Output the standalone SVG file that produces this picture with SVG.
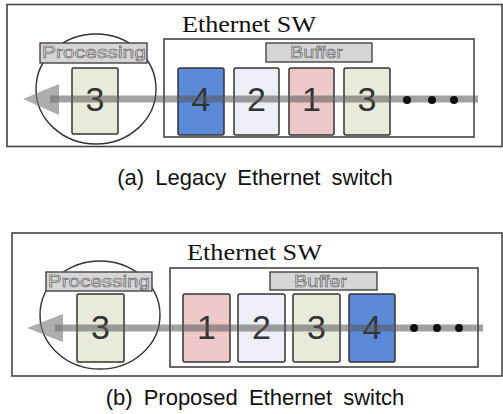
<svg xmlns="http://www.w3.org/2000/svg" width="503" height="414" viewBox="0 0 503 414">
<style>
.frame{fill:#fff;stroke:#444;stroke-width:1.6}
.buf{fill:none;stroke:#444;stroke-width:1.6}
.lbl{fill:#d6d6d6;stroke:#444;stroke-width:1.4}
.lbltxt{font-family:"Liberation Sans",Arial,sans-serif;fill:#d8d8d8;stroke:#444;stroke-width:0.45}
.circ{fill:none;stroke:#333;stroke-width:1.4}
.pkt{stroke:#333;stroke-width:1.5}
.num{font-family:"Liberation Sans",Arial,sans-serif;font-size:34px;fill:#333;text-anchor:middle}
.title{font-family:"Liberation Serif","Times New Roman",serif;font-size:23px;fill:#111}
.cap{font-family:"Liberation Sans",Arial,sans-serif;font-size:22px;fill:#111;text-anchor:middle}
.shaft{stroke:#555;stroke-width:7;opacity:0.55}
.head{fill:#777;opacity:0.6}
.blue{fill:#5b8ad8}.lav{fill:#eeeef6}.pink{fill:#efc9c9}.green{fill:#e8ebda}
</style>

<g id="panel-a">
  <rect class="frame" x="7" y="4.5" width="495" height="142"/>
  <text class="title" x="182" y="32" textLength="134" lengthAdjust="spacingAndGlyphs">Ethernet SW</text>
  <g id="a-buffer">
    <rect class="buf" x="164" y="39" width="310" height="98"/>
    <rect class="lbl" x="266" y="43" width="106" height="19"/>
    <text class="lbltxt" x="290" y="58" font-size="16" textLength="53" lengthAdjust="spacingAndGlyphs">Buffer</text>
  </g>
  <g id="a-processing">
    <ellipse class="circ" cx="96" cy="89" rx="60" ry="55"/>
    <rect class="lbl" x="40" y="43" width="107" height="20"/>
    <text class="lbltxt" x="42" y="58" font-size="16" textLength="104" lengthAdjust="spacingAndGlyphs">Processing</text>
    <rect class="pkt green" x="72" y="68" width="46" height="66" rx="1.5"/>
    <text class="num" x="95" y="111">3</text>
  </g>
  <g id="a-pkt4"><rect class="pkt blue" x="178" y="68" width="46" height="67" rx="2"/><text class="num" x="201" y="111">4</text></g>
  <g id="a-pkt2"><rect class="pkt lav" x="234" y="68" width="45" height="67" rx="2"/><text class="num" x="256.5" y="111">2</text></g>
  <g id="a-pkt1"><rect class="pkt pink" x="289" y="68" width="45" height="67" rx="2"/><text class="num" x="311.5" y="111">1</text></g>
  <g id="a-pkt3"><rect class="pkt green" x="344" y="68" width="46" height="67" rx="2"/><text class="num" x="367" y="111">3</text></g>
  <text class="cap" x="255" y="185" word-spacing="5">(a) Legacy Ethernet switch</text>
</g>

<g id="panel-b">
  <rect class="frame" x="12" y="233" width="490" height="143"/>
  <text class="title" x="187" y="260" textLength="135" lengthAdjust="spacingAndGlyphs">Ethernet SW</text>
  <g id="b-buffer">
    <rect class="buf" x="170" y="268" width="308" height="99"/>
    <rect class="lbl" x="270" y="272" width="107" height="18"/>
    <text class="lbltxt" x="294" y="287" font-size="16" textLength="53" lengthAdjust="spacingAndGlyphs">Buffer</text>
  </g>
  <g id="b-processing">
    <ellipse class="circ" cx="100" cy="315" rx="60" ry="54"/>
    <rect class="lbl" x="46" y="272" width="106" height="19"/>
    <text class="lbltxt" x="48" y="287" font-size="16" textLength="102" lengthAdjust="spacingAndGlyphs">Processing</text>
    <rect class="pkt green" x="77" y="294" width="47" height="68" rx="1.5"/>
    <text class="num" x="100.5" y="339">3</text>
  </g>
  <g id="b-pkt1"><rect class="pkt pink" x="183" y="294" width="47" height="68" rx="2"/><text class="num" x="206.5" y="339">1</text></g>
  <g id="b-pkt2"><rect class="pkt lav" x="238" y="294" width="47" height="68" rx="2"/><text class="num" x="261.5" y="339">2</text></g>
  <g id="b-pkt3"><rect class="pkt green" x="293" y="294" width="47" height="68" rx="2"/><text class="num" x="316.5" y="339">3</text></g>
  <g id="b-pkt4"><rect class="pkt blue" x="349" y="294" width="46" height="68" rx="2"/><text class="num" x="372" y="339">4</text></g>
  <text class="cap" x="255" y="405" word-spacing="5">(b) Proposed Ethernet switch</text>
</g>

<g id="connectors">
  <line class="shaft" x1="50" y1="99" x2="478" y2="99"/>
  <polygon class="head" points="23,99 59,84 59,115"/>
  <line class="shaft" x1="55" y1="328" x2="483" y2="328"/>
  <polygon class="head" points="27,328 63,314 63,342"/>
  <g fill="#111">
    <circle cx="407" cy="100" r="4"/><circle cx="432" cy="100" r="4"/><circle cx="454" cy="100" r="4"/>
    <circle cx="414" cy="328" r="4"/><circle cx="437" cy="328" r="4"/><circle cx="459" cy="328" r="4"/>
  </g>
</g>
</svg>
